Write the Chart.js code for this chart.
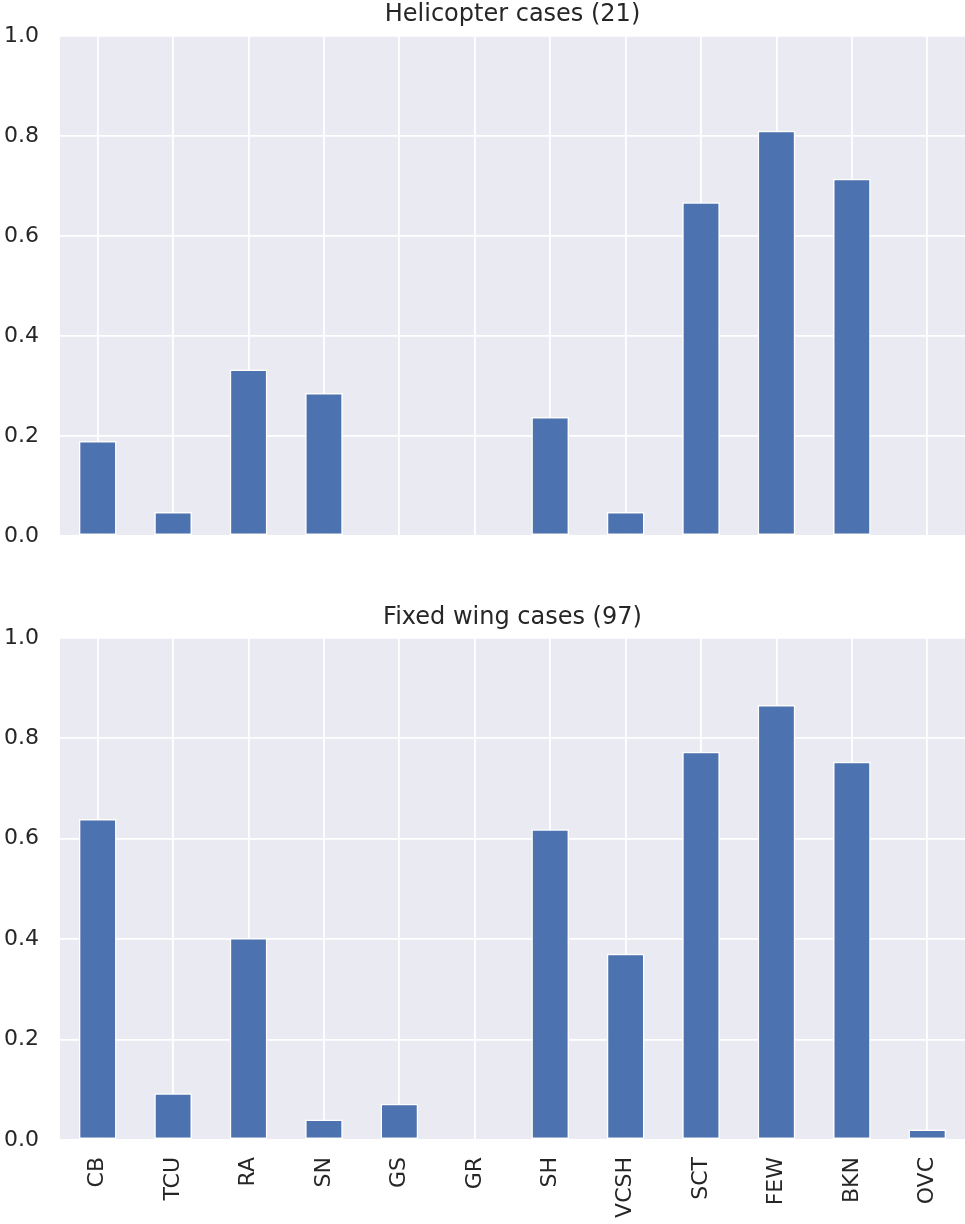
<!DOCTYPE html>
<html>
<head>
<meta charset="utf-8">
<script src="https://cdn.jsdelivr.net/npm/chart.js@4.4.1/dist/chart.umd.min.js"></script>
<style>
  html, body { margin: 0; padding: 0; background: #ffffff; }
  #page { position: relative; width: 965px; height: 1224px; }
  .panel { position: absolute; left: 0; width: 965px; }
  #heliWrap { top: 0; height: 560px; }
  #fixedWrap { top: 600px; height: 624px; }
</style>
</head>
<body>
<div id="page">
  <div class="panel" id="heliWrap"><canvas id="heli" width="965" height="560"></canvas></div>
  <div class="panel" id="fixedWrap"><canvas id="fixed" width="965" height="624"></canvas></div>
</div>
<script>
// Weather phenomena / cloud codes reported in the METARs
const categories = ['CB', 'TCU', 'RA', 'SN', 'GS', 'GR', 'SH', 'VCSH', 'SCT', 'FEW', 'BKN', 'OVC'];

// Share of cases reporting each code
const helicopterShare = [0.190, 0.048, 0.333, 0.286, 0.000, 0.000, 0.238, 0.048, 0.667, 0.810, 0.714, 0.000];
const fixedWingShare  = [0.639, 0.093, 0.402, 0.041, 0.072, 0.000, 0.619, 0.371, 0.773, 0.866, 0.753, 0.021];

const helicopterTitle = 'Helicopter cases (21)';
const fixedWingTitle  = 'Fixed wing cases (97)';

// Y tick values
const yTicks = [0.0, 0.2, 0.4, 0.6, 0.8, 1.0];

const FONT = '"DejaVu Sans", "Liberation Sans", sans-serif';
const TEXT = '#262626';
const PANEL_BG = '#EAEAF2';
const BAR = '#4C72B0';

// Fill the plotting area with the grey panel colour before anything else is drawn
const panelBackground = {
  id: 'panelBackground',
  beforeDraw(chart) {
    const { ctx, chartArea: a } = chart;
    ctx.save();
    ctx.fillStyle = PANEL_BG;
    ctx.fillRect(a.left, a.top, a.right - a.left, a.bottom - a.top);
    ctx.restore();
  }
};

function makeChart(canvasId, values, title, showXLabels, xAxisHeight, titlePad) {
  return new Chart(document.getElementById(canvasId), {
    type: 'bar',
    data: {
      labels: categories,
      datasets: [{
        data: values,
        backgroundColor: BAR,
        borderColor: '#ffffff',
        borderWidth: 1.5,
        borderSkipped: false,
        categoryPercentage: 1.0,
        barPercentage: 0.5
      }]
    },
    options: {
      responsive: false,
      animation: false,
      devicePixelRatio: 1,
      layout: { padding: 0 },
      plugins: {
        legend: { display: false },
        tooltip: { enabled: false },
        title: {
          display: true,
          text: title,
          fullSize: false,
          color: TEXT,
          font: { family: FONT, size: 24, weight: 'normal', lineHeight: 1.2 },
          padding: titlePad
        }
      },
      scales: {
        x: {
          offset: true,
          grid: { offset: false, color: '#ffffff', lineWidth: 1.8, drawTicks: false },
          border: { display: false },
          ticks: {
            display: showXLabels,
            color: TEXT,
            font: { family: FONT, size: 22 },
            minRotation: 90,
            maxRotation: 90,
            autoSkip: false,
            padding: 17
          },
          afterFit(scale) {
            scale.height = xAxisHeight;
            scale.paddingLeft = 0;
            scale.paddingRight = 0;
          }
        },
        y: {
          min: 0,
          max: 1,
          grid: { color: '#ffffff', lineWidth: 1.8, drawTicks: false },
          border: { display: false },
          afterBuildTicks(scale) { scale.ticks = yTicks.map(v => ({ value: v })); },
          ticks: {
            color: TEXT,
            font: { family: FONT, size: 22 },
            padding: 21,
            callback: v => Number(v).toFixed(1)
          },
          afterFit(scale) {
            scale.width = 60;
            scale.paddingTop = 0;
            scale.paddingBottom = 0;
          }
        }
      }
    },
    plugins: [panelBackground]
  });
}

makeChart('heli', helicopterShare, helicopterTitle, false, 24, { top: 0, bottom: 7 });
makeChart('fixed', fixedWingShare, fixedWingTitle, true, 84, { top: 3, bottom: 6 });
</script>
</body>
</html>
